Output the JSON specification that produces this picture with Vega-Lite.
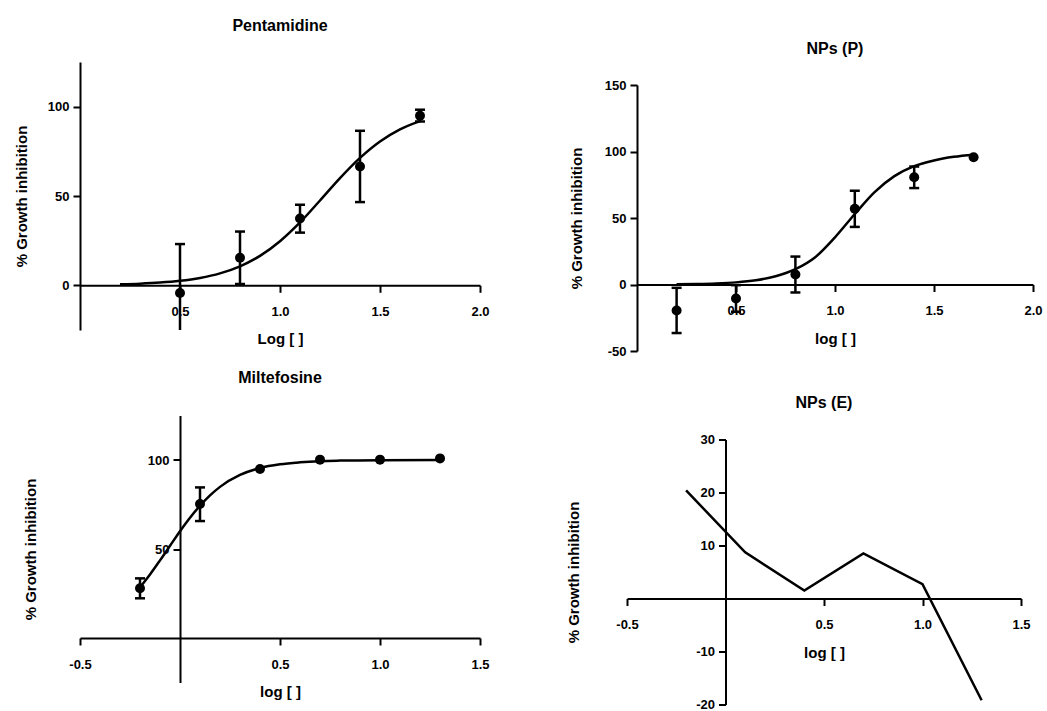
{
  "$schema": "https://vega.github.io/schema/vega-lite/v6.json",
  "background": "white",
  "padding": {"left": 14, "top": 18, "right": 0, "bottom": 0},
  "config": {
    "font": "Liberation Sans",
    "view": {"stroke": null},
    "axis": {
      "grid": false,
      "domainColor": "black", "domainWidth": 2,
      "tickColor": "black", "tickWidth": 2, "tickSize": 7,
      "labelFont": "Liberation Sans", "labelFontSize": 13, "labelFontWeight": "bold", "labelColor": "black",
      "titleFont": "Liberation Sans", "titleFontSize": 15, "titleFontWeight": "bold", "titleColor": "black",
      "labelOverlap": false, "labelFlush": false
    },
    "axisX": {"labelPadding": 13, "titlePadding": 13.5},
    "axisY": {"labelPadding": 4},
    "title": {"font": "Liberation Sans", "fontSize": 16, "fontWeight": "bold", "color": "black", "anchor": "middle", "frame": "group"}
  },
  "datasets": {
    "pent_pts": [
      {"logc": 0.5, "inh": -4.3, "lower": -31.5, "upper": 23.1},
      {"logc": 0.8, "inh": 15.4, "lower": 0.75, "upper": 30.1},
      {"logc": 1.1, "inh": 37.4, "lower": 29.5, "upper": 45.1},
      {"logc": 1.4, "inh": 66.5, "lower": 46.6, "upper": 86.5},
      {"logc": 1.7, "inh": 94.9, "lower": 91.7, "upper": 98.3}
    ],
    "pent_fit": [
      {"logc": 0.2, "inh": 0.57}, {"logc": 0.3, "inh": 0.94}, {"logc": 0.4, "inh": 1.55},
      {"logc": 0.5, "inh": 2.54}, {"logc": 0.6, "inh": 4.15}, {"logc": 0.7, "inh": 6.7},
      {"logc": 0.8, "inh": 10.65}, {"logc": 0.9, "inh": 16.5}, {"logc": 1.0, "inh": 24.7},
      {"logc": 1.1, "inh": 35.2}, {"logc": 1.2, "inh": 47.5}, {"logc": 1.3, "inh": 60.0},
      {"logc": 1.4, "inh": 71.3}, {"logc": 1.5, "inh": 80.5}, {"logc": 1.6, "inh": 87.3},
      {"logc": 1.7, "inh": 91.9}
    ],
    "npp_pts": [
      {"logc": 0.2, "inh": -19.5, "lower": -36.5, "upper": -2.5},
      {"logc": 0.5, "inh": -10.5, "lower": -20.5, "upper": -0.5},
      {"logc": 0.8, "inh": 7.5, "lower": -6, "upper": 21},
      {"logc": 1.1, "inh": 57, "lower": 43.3, "upper": 70.5},
      {"logc": 1.4, "inh": 80.6, "lower": 72.5, "upper": 88.7},
      {"logc": 1.7, "inh": 95.7, "lower": null, "upper": null}
    ],
    "npp_fit": [
      {"logc": 0.2, "inh": 0.2}, {"logc": 0.3, "inh": 0.4}, {"logc": 0.4, "inh": 0.8},
      {"logc": 0.5, "inh": 1.6}, {"logc": 0.6, "inh": 3.2}, {"logc": 0.7, "inh": 6.2},
      {"logc": 0.8, "inh": 11.5}, {"logc": 0.9, "inh": 20.5}, {"logc": 1.0, "inh": 35.5},
      {"logc": 1.1, "inh": 53}, {"logc": 1.2, "inh": 69.5}, {"logc": 1.3, "inh": 81.5},
      {"logc": 1.4, "inh": 89}, {"logc": 1.5, "inh": 93.3}, {"logc": 1.6, "inh": 96},
      {"logc": 1.7, "inh": 97.6}
    ],
    "milt_pts": [
      {"logc": -0.2, "inh": 27.9, "lower": 22.3, "upper": 33.5},
      {"logc": 0.1, "inh": 75.3, "lower": 65.7, "upper": 84.6},
      {"logc": 0.4, "inh": 94.9, "lower": null, "upper": null},
      {"logc": 0.7, "inh": 100.2, "lower": null, "upper": null},
      {"logc": 1.0, "inh": 100.2, "lower": null, "upper": null},
      {"logc": 1.3, "inh": 100.9, "lower": null, "upper": null}
    ],
    "milt_fit": [
      {"logc": -0.2, "inh": 28.5}, {"logc": -0.15, "inh": 35.7}, {"logc": -0.1, "inh": 43.6},
      {"logc": -0.05, "inh": 51.8}, {"logc": 0.0, "inh": 60.0}, {"logc": 0.05, "inh": 67.6},
      {"logc": 0.1, "inh": 74.3}, {"logc": 0.15, "inh": 80.1}, {"logc": 0.2, "inh": 84.9},
      {"logc": 0.3, "inh": 91.6}, {"logc": 0.4, "inh": 95.5}, {"logc": 0.5, "inh": 97.6},
      {"logc": 0.6, "inh": 98.7}, {"logc": 0.7, "inh": 99.35}, {"logc": 0.8, "inh": 99.66},
      {"logc": 1.0, "inh": 99.91}, {"logc": 1.3, "inh": 99.99}
    ],
    "npe_line": [
      {"logc": -0.2, "inh": 20.4}, {"logc": 0.1, "inh": 8.7}, {"logc": 0.4, "inh": 1.5},
      {"logc": 0.7, "inh": 8.5}, {"logc": 1.0, "inh": 2.7}, {"logc": 1.3, "inh": -19.2}
    ]
  },
  "spacing": 11.5,
  "vconcat": [
    {
      "spacing": 79,
      "hconcat": [
        {
          "width": 400, "height": 268,
          "title": {"text": "Pentamidine", "offset": 27.6},
          "encoding": {
            "x": {"field": "logc", "type": "quantitative", "scale": {"domain": [0, 2], "nice": false, "zero": false},
                  "axis": {"title": "Log [ ]", "values": [0.5, 1, 1.5, 2], "offset": -44.7, "labelExpr": "replace(format(datum.value, '.1f'), '\u2212', '-')"}},
            "y": {"field": "inh", "type": "quantitative", "scale": {"domain": [-25, 125], "nice": false, "zero": false},
                  "axis": {"title": "% Growth inhibition", "values": [0, 50, 100], "titlePadding": 18, "labelExpr": "replace(format(datum.value, 'd'), '\u2212', '-')"}}
          },
          "layer": [
            {"data": {"name": "pent_pts"}, "transform": [{"filter": "isValid(datum.lower)"}],
             "mark": {"type": "rule", "color": "black", "strokeWidth": 2.5, "clip": true},
             "encoding": {"y": {"field": "lower", "type": "quantitative", "scale": {"domain": [-25, 125], "nice": false, "zero": false},
                                "axis": {"title": "% Growth inhibition", "values": [0, 50, 100], "titlePadding": 18, "labelExpr": "replace(format(datum.value, 'd'), '\u2212', '-')"}},
                          "y2": {"field": "upper"}}},
            {"data": {"name": "pent_pts"}, "transform": [{"filter": "isValid(datum.lower)"}],
             "mark": {"type": "tick", "orient": "horizontal", "color": "black", "thickness": 2.5, "size": 10, "opacity": 1, "clip": true},
             "encoding": {"y": {"field": "lower", "type": "quantitative", "scale": {"domain": [-25, 125], "nice": false, "zero": false},
                                "axis": {"title": "% Growth inhibition", "values": [0, 50, 100], "titlePadding": 18, "labelExpr": "replace(format(datum.value, 'd'), '\u2212', '-')"}}}},
            {"data": {"name": "pent_pts"}, "transform": [{"filter": "isValid(datum.upper)"}],
             "mark": {"type": "tick", "orient": "horizontal", "color": "black", "thickness": 2.5, "size": 10, "opacity": 1, "clip": true},
             "encoding": {"y": {"field": "upper", "type": "quantitative", "scale": {"domain": [-25, 125], "nice": false, "zero": false},
                                "axis": {"title": "% Growth inhibition", "values": [0, 50, 100], "titlePadding": 18, "labelExpr": "replace(format(datum.value, 'd'), '\u2212', '-')"}}}},
            {"data": {"name": "pent_fit"}, "mark": {"type": "line", "color": "black", "strokeWidth": 2.5, "interpolate": "monotone"}},
            {"data": {"name": "pent_pts"}, "mark": {"type": "circle", "color": "black", "opacity": 1, "size": 100}}
          ]
        },
        {
          "width": 396, "height": 289,
          "title": {"text": "NPs (P)", "offset": 4.6},
          "encoding": {
            "x": {"field": "logc", "type": "quantitative", "scale": {"domain": [0, 2], "nice": false, "zero": false},
                  "axis": {"title": "log [ ]", "values": [0.5, 1, 1.5, 2], "offset": -66.5, "labelExpr": "replace(format(datum.value, '.1f'), '\u2212', '-')"}},
            "y": {"field": "inh", "type": "quantitative", "scale": {"domain": [-50, 150], "range": [289, 23], "nice": false, "zero": false},
                  "axis": {"title": "% Growth inhibition", "values": [-50, 0, 50, 100, 150], "titlePadding": 20, "labelExpr": "replace(format(datum.value, 'd'), '\u2212', '-')"}}
          },
          "layer": [
            {"data": {"name": "npp_pts"}, "transform": [{"filter": "isValid(datum.lower)"}],
             "mark": {"type": "rule", "color": "black", "strokeWidth": 2.5},
             "encoding": {"y": {"field": "lower", "type": "quantitative", "scale": {"domain": [-50, 150], "range": [289, 23], "nice": false, "zero": false},
                                "axis": {"title": "% Growth inhibition", "values": [-50, 0, 50, 100, 150], "titlePadding": 20, "labelExpr": "replace(format(datum.value, 'd'), '\u2212', '-')"}},
                          "y2": {"field": "upper"}}},
            {"data": {"name": "npp_pts"}, "transform": [{"filter": "isValid(datum.lower)"}],
             "mark": {"type": "tick", "orient": "horizontal", "color": "black", "thickness": 2.5, "size": 10, "opacity": 1},
             "encoding": {"y": {"field": "lower", "type": "quantitative", "scale": {"domain": [-50, 150], "range": [289, 23], "nice": false, "zero": false},
                                "axis": {"title": "% Growth inhibition", "values": [-50, 0, 50, 100, 150], "titlePadding": 20, "labelExpr": "replace(format(datum.value, 'd'), '\u2212', '-')"}}}},
            {"data": {"name": "npp_pts"}, "transform": [{"filter": "isValid(datum.upper)"}],
             "mark": {"type": "tick", "orient": "horizontal", "color": "black", "thickness": 2.5, "size": 10, "opacity": 1},
             "encoding": {"y": {"field": "upper", "type": "quantitative", "scale": {"domain": [-50, 150], "range": [289, 23], "nice": false, "zero": false},
                                "axis": {"title": "% Growth inhibition", "values": [-50, 0, 50, 100, 150], "titlePadding": 20, "labelExpr": "replace(format(datum.value, 'd'), '\u2212', '-')"}}}},
            {"data": {"name": "npp_fit"}, "mark": {"type": "line", "color": "black", "strokeWidth": 2.5, "interpolate": "monotone"}},
            {"data": {"name": "npp_pts"}, "mark": {"type": "circle", "color": "black", "opacity": 1, "size": 100}}
          ]
        }
      ]
    },
    {
      "spacing": 76,
      "hconcat": [
        {
          "width": 400, "height": 267,
          "title": {"text": "Miltefosine", "offset": 29.3},
          "encoding": {
            "x": {"field": "logc", "type": "quantitative", "scale": {"domain": [-0.5, 1.5], "nice": false, "zero": false},
                  "axis": {"title": "log [ ]", "values": [-0.5, 0.5, 1, 1.5], "offset": -44.5, "labelExpr": "replace(format(datum.value, '.1f'), '\u2212', '-')"}},
            "y": {"field": "inh", "type": "quantitative", "scale": {"domain": [-25, 125], "nice": false, "zero": false},
                  "axis": {"title": "% Growth inhibition", "values": [50, 100], "offset": -100, "titlePadding": 108.7, "labelExpr": "replace(format(datum.value, 'd'), '\u2212', '-')"}}
          },
          "layer": [
            {"data": {"name": "milt_pts"}, "transform": [{"filter": "isValid(datum.lower)"}],
             "mark": {"type": "rule", "color": "black", "strokeWidth": 2.5},
             "encoding": {"y": {"field": "lower", "type": "quantitative", "scale": {"domain": [-25, 125], "nice": false, "zero": false},
                                "axis": {"title": "% Growth inhibition", "values": [50, 100], "offset": -100, "titlePadding": 108.7, "labelExpr": "replace(format(datum.value, 'd'), '\u2212', '-')"}},
                          "y2": {"field": "upper"}}},
            {"data": {"name": "milt_pts"}, "transform": [{"filter": "isValid(datum.lower)"}],
             "mark": {"type": "tick", "orient": "horizontal", "color": "black", "thickness": 2.5, "size": 10, "opacity": 1},
             "encoding": {"y": {"field": "lower", "type": "quantitative", "scale": {"domain": [-25, 125], "nice": false, "zero": false},
                                "axis": {"title": "% Growth inhibition", "values": [50, 100], "offset": -100, "titlePadding": 108.7, "labelExpr": "replace(format(datum.value, 'd'), '\u2212', '-')"}}}},
            {"data": {"name": "milt_pts"}, "transform": [{"filter": "isValid(datum.upper)"}],
             "mark": {"type": "tick", "orient": "horizontal", "color": "black", "thickness": 2.5, "size": 10, "opacity": 1},
             "encoding": {"y": {"field": "upper", "type": "quantitative", "scale": {"domain": [-25, 125], "nice": false, "zero": false},
                                "axis": {"title": "% Growth inhibition", "values": [50, 100], "offset": -100, "titlePadding": 108.7, "labelExpr": "replace(format(datum.value, 'd'), '\u2212', '-')"}}}},
            {"data": {"name": "milt_fit"}, "mark": {"type": "line", "color": "black", "strokeWidth": 2.5, "interpolate": "monotone"}},
            {"data": {"name": "milt_pts"}, "mark": {"type": "circle", "color": "black", "opacity": 1, "size": 100}}
          ]
        },
        {
          "width": 394, "height": 289,
          "title": {"text": "NPs (E)", "offset": 4.3},
          "data": {"name": "npe_line"},
          "mark": {"type": "line", "color": "black", "strokeWidth": 2.5},
          "encoding": {
            "x": {"field": "logc", "type": "quantitative", "scale": {"domain": [-0.5, 1.5], "nice": false, "zero": false},
                  "axis": {"title": "log [ ]", "values": [-0.5, 0.5, 1, 1.5], "offset": -106, "labelExpr": "replace(format(datum.value, '.1f'), '\u2212', '-')"}},
            "y": {"field": "inh", "type": "quantitative", "scale": {"domain": [-20, 30], "range": [289, 24], "nice": false, "zero": false},
                  "axis": {"title": "% Growth inhibition", "values": [-20, -10, 10, 20, 30], "offset": -98.5, "titlePadding": 114, "labelExpr": "replace(format(datum.value, 'd'), '\u2212', '-')"}}
          }
        }
      ]
    }
  ]
}
